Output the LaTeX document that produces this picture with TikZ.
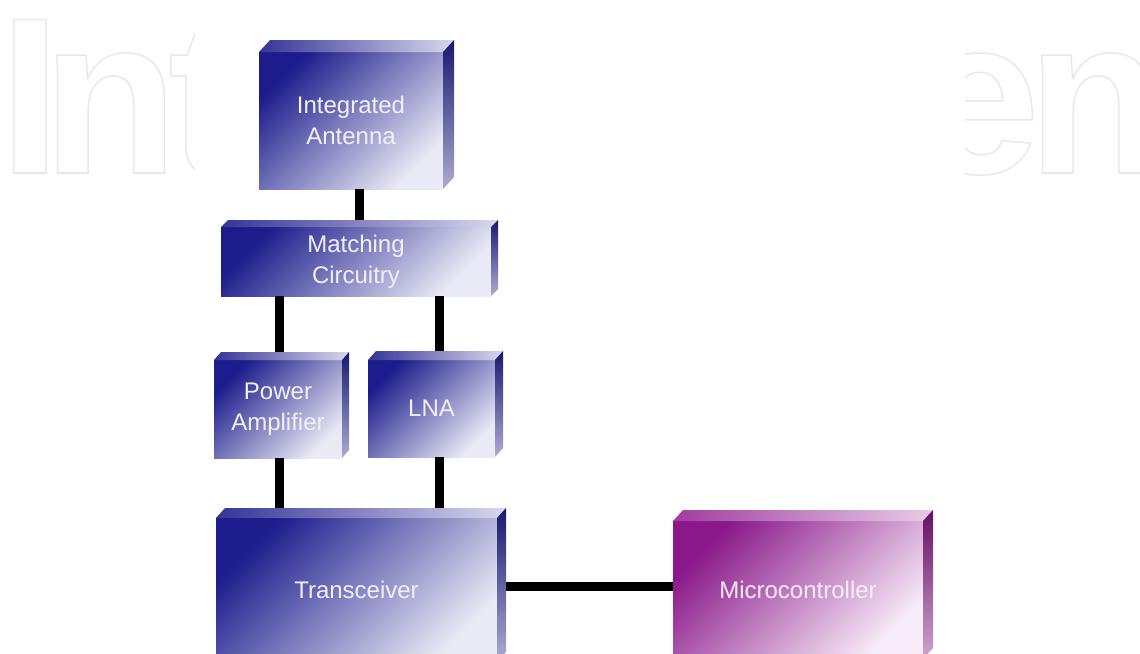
\documentclass[tikz,border=0pt]{standalone}
\usepackage{fontspec}
\setmainfont{Liberation Sans}
\newfontfamily\wmfont{Liberation Sans}
\usetikzlibrary{calc}
\definecolor{bfA}{RGB}{28,28,140}
\definecolor{bfM}{RGB}{104,104,184}
\definecolor{bfC}{RGB}{234,234,246}
\definecolor{bsA}{RGB}{24,24,112}
\definecolor{bsB}{RGB}{172,172,208}
\definecolor{btA}{RGB}{52,52,152}
\definecolor{btB}{RGB}{216,216,236}
\definecolor{pfA}{RGB}{138,24,138}
\definecolor{pfM}{RGB}{188,108,188}
\definecolor{pfC}{RGB}{248,236,248}
\definecolor{psA}{RGB}{100,16,100}
\definecolor{psB}{RGB}{206,166,206}
\definecolor{ptA}{RGB}{160,60,160}
\definecolor{ptB}{RGB}{232,204,232}
\definecolor{btext}{RGB}{240,240,250}
\definecolor{ptext}{RGB}{250,236,250}
\definecolor{wmcol}{RGB}{232,232,232}
\newcommand\boxfaces[5]{%
  \shade[#4] (#1.north west) -- ++(#2,-#3) -- ($(#1.north east)+(#2,-#3)$) -- (#1.north east) -- cycle;
  \shade[#5] (#1.north east) -- ++(#2,-#3) -- ($(#1.south east)+(#2,-#3)$) -- (#1.south east) -- cycle;
}
\newcommand\outlinetext[1]{\special{pdf:literal direct 1 Tr 1.5 w}#1\special{pdf:literal direct 0 Tr}}
\begin{document}
\begin{tikzpicture}[x=1pt,y=-1pt,
  wm/.style={inner sep=0pt, outer sep=0pt, text=wmcol, font=\wmfont\bfseries\fontsize{223}{223}\selectfont},
  bluebox/.style={inner sep=0pt, outer sep=0pt, align=center, text=btext,
    font=\fontsize{24}{31}\selectfont,
    shade, top color=bfA, middle color=bfM, bottom color=bfC, shading angle=45},
  purplebox/.style={inner sep=0pt, outer sep=0pt, align=center, text=ptext,
    font=\fontsize{24}{31}\selectfont,
    shade, top color=pfA, middle color=pfM, bottom color=pfC, shading angle=45},
  bluetop/.style={left color=btA, right color=btB},
  blueside/.style={top color=bsA, bottom color=bsB},
  purpletop/.style={left color=ptA, right color=ptB},
  purpleside/.style={top color=psA, bottom color=psB},
  conn/.style={line width=9pt, black}
]
\useasboundingbox (0,0) rectangle (1140,653);
% watermark
\node[wm, anchor=base west] (wmleft) at (-1,173) {\outlinetext{I\kern-19pt n\kern-10pt t}};
\node[wm, anchor=base west] (wmright) at (916,173) {\outlinetext{e\kern-13pt n}};
\fill[white] (195,0) rectangle (965,653);
% blocks (front faces)
\node[bluebox, minimum width=184, minimum height=137] (ant) at (351,120.5) {Integrated\\Antenna};
\node[bluebox, minimum width=270, minimum height=69] (mat) at (356,261.5) {Matching\\Circuitry};
\node[bluebox, minimum width=128, minimum height=98] (pa) at (278,409) {Power\\Amplifier};
\node[bluebox, minimum width=127, minimum height=97] (lna) at (431.5,408.5) {LNA};
\node[bluebox, minimum width=281, minimum height=144] (trx) at (356.5,590) {Transceiver};
\node[purplebox, minimum width=250, minimum height=138] (mcu) at (798,590) {Microcontroller};
% connectors
\coordinate (xa) at (359,0);
\coordinate (xl) at (279,0);
\coordinate (xr) at (439,0);
\draw[conn] (ant.south -| xa) -- (mat.north -| xa);
\draw[conn] (mat.south -| xl) -- (pa.north -| xl);
\draw[conn] (mat.south -| xr) -- (lna.north -| xr);
\draw[conn] (pa.south -| xl) -- (trx.north -| xl);
\draw[conn] (lna.south -| xr) -- (trx.north -| xr);
\draw[conn] ([yshift=4pt]trx.east) -- ([yshift=4pt]mcu.west);
% 3D faces
\boxfaces{ant}{11}{12}{bluetop}{blueside}
\boxfaces{mat}{7}{7}{bluetop}{blueside}
\boxfaces{pa}{7}{8}{bluetop}{blueside}
\boxfaces{lna}{8}{9}{bluetop}{blueside}
\boxfaces{trx}{9}{10}{bluetop}{blueside}
\boxfaces{mcu}{10}{11}{purpletop}{purpleside}
\end{tikzpicture}
\end{document}
